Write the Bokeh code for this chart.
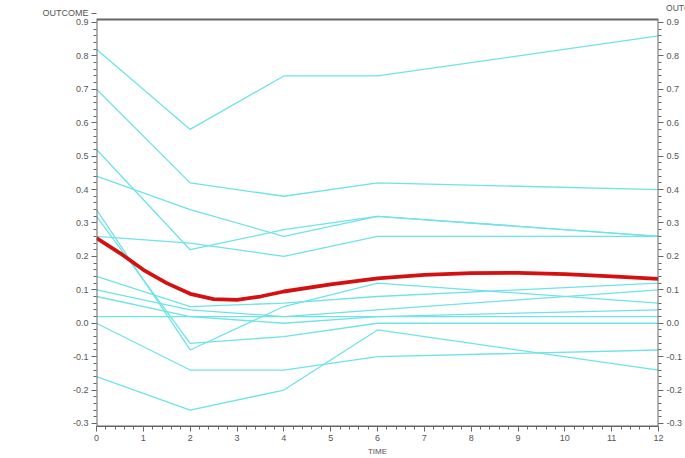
from bokeh.plotting import figure
from bokeh.models import Range1d, LinearAxis, Title, FixedTicker, BoxAnnotation
from bokeh.embed import file_html
from bokeh.resources import INLINE

# ---- data ----
times = [0, 2, 4, 6, 12]
subjects = {
    "s01": [0.82, 0.58, 0.74, 0.74, 0.86],
    "s02": [0.70, 0.42, 0.38, 0.42, 0.40],
    "s03": [0.52, 0.22, 0.28, 0.32, 0.26],
    "s04": [0.44, 0.34, 0.26, 0.32, 0.26],
    "s05": [0.26, 0.24, 0.20, 0.26, 0.26],
    "s06": [0.34, -0.08, 0.05, 0.12, 0.06],
    "s07": [0.32, -0.06, -0.04, 0.00, 0.00],
    "s08": [0.14, 0.05, 0.06, 0.08, 0.12],
    "s09": [0.10, 0.04, 0.02, 0.04, 0.10],
    "s10": [0.08, 0.02, 0.00, 0.02, 0.04],
    "s11": [0.02, 0.02, 0.02, 0.02, 0.02],
    "s12": [0.00, -0.14, -0.14, -0.10, -0.08],
    "s13": [-0.16, -0.26, -0.20, -0.02, -0.14],
}
mean_t = [0, 0.5, 1, 1.5, 2, 2.5, 3, 3.5, 4, 5, 6, 7, 8, 9, 10, 11, 12]
mean_y = [0.255, 0.21, 0.16, 0.12, 0.088, 0.072, 0.07, 0.08, 0.095, 0.116,
          0.134, 0.145, 0.15, 0.151, 0.147, 0.14, 0.133]
x_ticks = list(range(0, 13))
y_ticks = [-0.3, -0.2, -0.1, 0.0, 0.1, 0.2, 0.3, 0.4, 0.5, 0.6, 0.7, 0.8, 0.9]
y_tick_labels = ["-0.3", "-0.2", "-0.1", "0.0", "0.1", "0.2", "0.3", "0.4",
                 "0.5", "0.6", "0.7", "0.8", "0.9"]
y_name = "OUTCOME"
x_name = "TIME"

FONT = "Liberation Sans"
TXT = "#555555"
AX = "#666666"

# plot box: y from -0.309 to 0.909 (small pad around the ticks)
Y_LO, Y_HI = -0.309, 0.909
NAME_Y = 0.927          # height of the y-axis name above the box

p = figure(width=685, height=458, output_backend="svg", toolbar_location=None,
           x_range=Range1d(0, 12), y_range=Range1d(Y_LO, 0.9299),
           min_border_left=96, min_border_right=25, min_border_top=12,
           min_border_bottom=32)
p.xgrid.visible = False
p.ygrid.visible = False
p.outline_line_color = None
p.background_fill_color = "white"
p.border_fill_color = "white"

# frame box (top edge sits below the name row)
p.add_layout(BoxAnnotation(left=0, right=12, bottom=Y_LO, top=Y_HI,
                           fill_color=None, fill_alpha=0,
                           line_color=AX, line_alpha=1.0, line_width=2))

for name, vals in subjects.items():
    p.line(times, vals, line_color="#6fe3e6", line_width=1.3)

p.line(mean_t, mean_y, line_color="#d41010", line_width=3.8)

def style_axis(ax):
    ax.axis_line_color = None
    ax.major_tick_line_color = AX
    ax.minor_tick_line_color = AX
    ax.major_tick_out = 5
    ax.major_tick_in = 0
    ax.minor_tick_out = 3
    ax.minor_tick_in = 0
    ax.major_label_text_font = FONT
    ax.major_label_text_font_size = "9px"
    ax.major_label_text_color = TXT
    ax.major_label_standoff = 3

minor_y = [-0.3 + i * 0.02 for i in range(0, 61)]

xa = p.xaxis[0]
style_axis(xa)
xa.axis_line_color = AX
xa.ticker = FixedTicker(ticks=x_ticks,
                        minor_ticks=[i / 5 for i in range(0, 61)])
xa.axis_label = x_name
xa.axis_label_text_font = FONT
xa.axis_label_text_font_size = "8px"
xa.axis_label_text_font_style = "normal"
xa.axis_label_text_color = TXT
xa.axis_label_standoff = 3

ya = p.yaxis[0]
style_axis(ya)
ya.ticker = FixedTicker(ticks=y_ticks + [NAME_Y], minor_ticks=minor_y)
ov = {t: s for t, s in zip(y_ticks, y_tick_labels)}
ov[NAME_Y] = y_name
ya.major_label_overrides = ov

ra = LinearAxis()
style_axis(ra)
ra.ticker = FixedTicker(ticks=y_ticks, minor_ticks=minor_y)
ra.major_label_overrides = {t: s for t, s in zip(y_ticks, y_tick_labels)}
p.add_layout(ra, "right")

# y-axis name above the right axis (cut by the page edge)
p.add_layout(Title(text=y_name, align="right", offset=-51, standoff=0,
                   text_font=FONT, text_font_size="8.5px",
                   text_font_style="normal", text_color=TXT), "above")

open("out.html", "w").write(file_html(p, INLINE))
